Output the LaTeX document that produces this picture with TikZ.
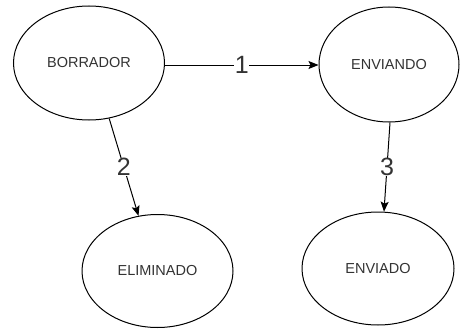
\documentclass[tikz,border=0pt]{standalone}
\usepackage{fontspec}
\setmainfont{Liberation Sans}
\usetikzlibrary{shapes.geometric,arrows.meta}
\definecolor{txt}{HTML}{333333}
\tikzset{
  state/.style={draw=black, line width=1pt, ellipse, inner sep=0pt, text=txt, font=\fontsize{14.5}{17}\selectfont},
  conn/.style={draw=black, line width=1pt, -{Stealth[length=10pt,width=8pt,inset=2pt]}},
  lbl/.style={fill=white, inner sep=0.5pt, text=txt, font=\fontsize{25}{28}\selectfont}
}
\begin{document}
\begin{tikzpicture}[x=1pt,y=-1pt]
\useasboundingbox (0,0) rectangle (460,329);
\node[state, minimum width=151pt, minimum height=114pt] (b) at (89,63) {BORRADOR};
\node[state, minimum width=140pt, minimum height=115pt] (e) at (389,64.5) {ENVIANDO};
\node[state, minimum width=151pt, minimum height=113pt] (l) at (157.5,271) {ELIMINADO};
\node[state, minimum width=152pt, minimum height=113pt] (d) at (378,268.5) {ENVIADO};
\draw[conn] (b.east |- 0,65) -- node[lbl] {1} (e.west |- 0,65);
\draw[conn] (b.-70) -- node[lbl] {2} (l.109);
\draw[conn] (e.-89) -- node[lbl] {3} (d.84);
\end{tikzpicture}
\end{document}
